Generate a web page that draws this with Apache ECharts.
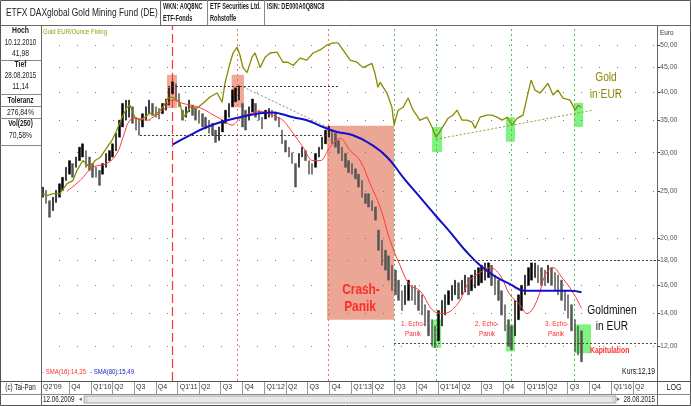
<!DOCTYPE html>
<html><head><meta charset="utf-8">
<script src="https://cdn.jsdelivr.net/npm/echarts@6/dist/echarts.min.js"></script>
<style>html,body{margin:0;padding:0;background:#fff}#c{width:691px;height:406px}</style>
</head><body><div id="c"></div>
<script>
// ---------------- data ----------------
const fundStart = [2009, 6, 12];     // first bar date (y, m, d)
const fundStepDays = 14;             // one bar per two weeks
const fundLow = [24.3,23.6,22.1,22.8,23.7,24.3,25.1,26.3,27.1,26.7,28.0,28.9,29.4,28.0,27.6,26.7,26.7,25.7,27.1,28.0,
28.9,29.4,30.3,32.3,33.9,35.0,35.5,34.5,33.4,32.6,33.9,35.0,36.1,35.8,35.5,35.2,36.1,36.7,37.6,39.7,
38.5,37.3,35.0,35.5,36.4,35.8,35.0,34.5,33.9,33.6,32.9,32.6,31.5,31.8,33.1,34.5,35.5,37.3,38.2,38.5,
33.9,33.4,35.0,36.4,35.5,35.0,33.6,35.2,35.5,35.5,35.0,33.9,31.3,30.1,29.4,28.5,25.5,28.0,29.4,28.9,
27.1,27.1,28.0,29.4,30.5,31.3,32.3,31.3,30.8,29.9,28.9,28.0,27.3,27.1,26.5,25.5,24.3,23.6,23.2,22.8,
21.8,18.9,17.6,17.2,16.4,15.6,15.3,14.9,14.2,14.6,14.9,14.9,14.6,14.2,13.9,13.2,12.6,12.0,11.9,12.3,
13.2,13.9,14.6,14.9,15.3,15.0,15.3,15.5,15.3,15.6,15.8,16.0,16.2,16.4,16.6,16.0,15.3,14.9,13.9,12.9,
12.0,11.8,12.6,13.6,14.2,15.3,16.0,16.4,16.6,16.2,16.0,16.0,16.2,16.0,15.6,15.3,14.9,14.2,13.7,12.9,
11.7,11.5,11.14];
const fundHigh = [25.5,25.1,23.9,24.3,25.1,25.9,26.7,28.0,28.9,28.5,29.4,30.8,31.3,30.3,29.4,28.5,28.0,27.6,28.5,29.9,
30.3,31.3,32.9,35.0,37.9,38.5,38.5,37.3,35.5,35.0,36.1,37.3,38.5,37.9,37.3,37.0,37.9,38.7,40.8,41.98,
41.6,39.7,36.7,37.3,38.5,37.6,37.0,36.7,36.1,35.5,35.0,34.5,33.4,33.9,35.0,36.7,37.9,40.4,40.8,41.2,
37.9,36.7,37.3,38.7,37.9,36.7,35.5,36.7,37.0,36.7,36.4,35.5,33.4,31.8,30.8,30.0,28.5,29.9,30.8,30.3,
28.9,28.5,29.9,30.8,32.3,33.4,34.0,33.4,32.9,31.8,30.8,29.9,28.9,28.5,27.8,27.1,26.3,24.7,24.7,23.9,
23.2,20.8,19.8,18.9,18.4,17.6,17.2,16.4,15.6,16.0,16.4,16.0,16.0,15.6,15.3,14.6,14.2,13.6,13.2,14.2,
14.9,15.3,15.6,16.0,16.4,16.2,16.4,16.8,16.6,16.8,17.2,17.4,17.6,17.8,17.8,17.6,16.8,16.4,15.6,14.6,
13.6,13.2,14.9,15.3,16.0,16.8,17.4,17.8,17.8,17.6,17.4,17.2,17.6,17.4,17.0,16.8,16.4,15.6,15.3,14.6,
13.6,13.2,12.9];

const sma16Dates = ['2009-09-22','2009-11-16','2010-01-09','2010-03-09','2010-04-20','2010-05-16','2010-06-14','2010-07-14',
'2010-08-25','2010-09-19','2010-10-31','2010-12-12','2011-01-23','2011-03-06','2011-04-18','2011-05-30','2011-07-11',
'2011-08-18','2011-09-20','2011-11-01','2011-12-14','2012-01-25','2012-02-23','2012-03-19','2012-05-01','2012-06-12',
'2012-07-24','2012-08-22','2012-10-03','2012-11-14','2012-12-27','2013-02-07','2013-03-21','2013-05-02','2013-06-13',
'2013-07-25','2013-09-05','2013-10-17','2013-12-11','2014-01-22','2014-03-22','2014-05-16','2014-06-27','2014-08-08',
'2014-09-19','2014-10-31','2014-12-12','2015-01-11','2015-02-22','2015-03-28','2015-04-30','2015-06-07','2015-07-19','2015-08-28'];
const sma16Values = [25.0,26.3,28.0,28.5,29.9,32.3,35.0,35.3,35.0,35.5,36.7,38.5,37.9,37.5,36.9,35.9,35.0,
34.2,35.3,36.1,36.5,36.0,35.5,35.0,32.9,30.8,28.9,28.9,30.8,32.1,30.3,28.9,25.9,23.2,19.8,
17.6,16.0,15.6,14.2,14.0,14.6,16.4,17.0,17.4,16.8,15.3,14.6,14.0,14.9,16.8,17.4,16.6,15.6,14.35];

const sma80Dates = ['2010-12-12','2011-02-22','2011-05-04','2011-07-28','2011-09-20','2011-12-01','2012-02-06','2012-03-07',
'2012-05-01','2012-06-28','2012-09-04','2012-11-02','2013-01-08','2013-03-21','2013-05-31','2013-08-07','2013-10-17',
'2013-12-28','2014-02-21','2014-04-25','2014-06-27','2014-08-29','2014-10-31','2015-01-02','2015-03-07','2015-05-09',
'2015-07-11','2015-08-28'];
const sma80Values = [31.2,32.6,33.9,35.0,35.5,36.1,36.3,36.1,35.5,35.0,33.9,33.1,32.6,31.3,29.4,26.7,24.3,
22.1,20.6,18.9,17.6,16.7,16.1,15.6,15.6,15.6,15.6,15.49];

const goldDates = ['2009-06-12','2009-06-30','2009-07-25','2009-08-23','2009-09-22','2009-10-17','2009-11-03','2009-11-28',
'2009-12-28','2010-01-18','2010-02-08','2010-03-09','2010-03-30','2010-04-20','2010-05-12','2010-06-02','2010-06-14',
'2010-07-05','2010-07-26','2010-08-16','2010-09-06','2010-09-27','2010-10-10','2010-10-31','2010-11-21','2010-12-08',
'2010-12-29','2011-01-11','2011-01-23','2011-02-09','2011-02-22','2011-03-23','2011-04-18','2011-05-17','2011-06-16',
'2011-07-07','2011-07-19','2011-08-09','2011-08-22','2011-09-08','2011-09-20','2011-10-03','2011-10-20','2011-11-10',
'2011-11-23','2011-12-14','2012-01-04','2012-01-25','2012-02-23','2012-03-19','2012-04-09','2012-05-01','2012-05-30',
'2012-06-28','2012-07-24','2012-08-22','2012-09-21','2012-10-16','2012-11-06','2012-11-27','2012-12-27','2013-01-25',
'2013-02-19','2013-03-29','2013-04-11','2013-04-23','2013-05-02','2013-05-31','2013-06-21','2013-06-30','2013-07-17',
'2013-08-07','2013-08-28','2013-09-18','2013-10-17','2013-11-16','2013-12-07','2013-12-24','2014-01-18','2014-02-12',
'2014-03-05','2014-03-22','2014-04-12','2014-05-03','2014-05-24','2014-06-06','2014-06-27','2014-07-26','2014-08-16',
'2014-09-06','2014-09-28','2014-10-19','2014-11-09','2014-11-30','2014-12-25','2015-01-11','2015-01-28','2015-02-13',
'2015-03-07','2015-04-09','2015-04-30','2015-05-21','2015-06-11','2015-07-11','2015-08-01','2015-08-14','2015-08-28'];
const goldValues = [660,654,660,660,692,702,737,772,747,772,783,821,849,892,948,994,1003,948,935,948,966,957,970,994,
1038,1043,1028,1013,948,966,994,989,1013,1043,1063,1018,1113,1223,1285,1322,1273,1199,1171,1260,1285,1199,1260,1285,
1291,1230,1230,1211,1254,1242,1285,1304,1335,1348,1348,1304,1242,1230,1199,1223,1165,1092,1119,1063,994,913,980,994,
1038,980,935,948,904,862,900,943,957,980,935,935,926,900,948,957,957,948,935,948,913,943,957,1043,1130,1078,1063,
1113,1053,1078,1038,1028,980,1003,994];

const quarterDates = ['2009-06-05','2009-10-01','2010-01-01','2010-04-01','2010-07-01','2010-10-01','2011-01-01','2011-04-01',
'2011-07-01','2011-10-01','2012-01-01','2012-04-01','2012-07-01','2012-10-01','2013-01-01','2013-04-01','2013-07-01',
'2013-10-01','2014-01-01','2014-04-01','2014-07-01','2014-10-01','2015-01-01','2015-04-01','2015-07-01','2015-10-01',
'2016-01-01','2016-04-01'];
const quarterLabels = ["Q2'09","Q4","Q1'10","Q2","Q3","Q4","Q1'11","Q2","Q3","Q4","Q1'12","Q2","Q3","Q4","Q1'13","Q2","Q3",
"Q4","Q1'14","Q2","Q3","Q4","Q1'15","Q2","Q3","Q4","Q1'16","Q2"];
const yTickValues = [12,14,16,18,20,25,30,35,40,45,50];

// ---------------- build ----------------
const FONT = "'Liberation Sans',Arial,sans-serif";
const ts = s => { const p = s.split('-').map(Number); return new Date(p[0], p[1]-1, p[2]).getTime(); };
const fundDates = fundLow.map((_, i) => new Date(fundStart[0], fundStart[1]-1, fundStart[2] + fundStepDays*i).getTime());
const candles = fundDates.map((d, i) => {
  const mid = (fundLow[i] + fundHigh[i]) / 2;
  const prev = i ? (fundLow[i-1] + fundHigh[i-1]) / 2 : 0;
  return mid >= prev ? [d, fundLow[i], fundHigh[i], fundLow[i], fundHigh[i]]
                     : [d, fundHigh[i], fundLow[i], fundLow[i], fundHigh[i]];
});
const pairs = (ds, vs) => ds.map((d, i) => [ts(d), vs[i]]);
const qTs = quarterDates.map(ts);
const qMap = {}; qTs.forEach((t, i) => qMap[t] = quarterLabels[i]);
const L10 = Math.log10;
const GOLD_K = 26.7;
const yMin = 10.17, yMax = 54.7;

function T(x, y, text, o) {
  o = o || {};
  return { type: 'text', z: 50, silent: true, x, y, scaleX: o.sx || 0.8, style: {
    x: 0, y: 0, text, fill: o.color || '#222',
    font: (o.bold ? 'bold ' : '') + (o.size || 8.5) + 'px ' + FONT,
    textAlign: o.align || 'left', align: o.align || 'left',
    textVerticalAlign: 'middle', verticalAlign: 'middle' } };
}
function Ln(x1, y1, x2, y2, c, w) {
  return { type: 'line', z: 40, silent: true, shape: { x1, y1, x2, y2 }, style: { stroke: c || '#777', lineWidth: w || 1 } };
}

const red = '#ff2b2b';
const graphics = [
  { type: 'rect', z: 39, silent: true, shape: { x: 0.5, y: 0.5, width: 690, height: 405 }, style: { fill: 'none', stroke: '#555', lineWidth: 1 } },
  Ln(0, 25.5, 691, 25.5, '#666'),
  Ln(160.5, 0, 160.5, 25.5, '#666'), Ln(207.5, 0, 207.5, 25.5, '#888'), Ln(264.5, 0, 264.5, 25.5, '#888'),
  Ln(41.5, 25.5, 41.5, 406, '#666'), Ln(657.5, 25.5, 657.5, 406, '#666'),
  Ln(0, 381.5, 691, 381.5, '#555'), Ln(0, 394.5, 691, 394.5, '#888'),
  Ln(0, 60.5, 41, 60.5, '#888'), Ln(0, 94.5, 41, 94.5, '#888'), Ln(0, 106.5, 41, 106.5, '#888'),
  Ln(0, 118.5, 41, 118.5, '#888'), Ln(0, 145.5, 41, 145.5, '#888'),
  { type: 'rect', z: 38, silent: true, shape: { x: 84, y: 396, width: 532, height: 7 }, style: { fill: '#d9d9d9', stroke: '#aaa', lineWidth: 1 } },
  { type: 'rect', z: 38, silent: true, shape: { x: 88, y: 397, width: 524, height: 5 }, style: { fill: '#e9e9e9' } },
  T(79, 399.5, '◂', { size: 7, color: '#666' }), T(617, 399.5, '▸', { size: 7, color: '#666' }),
  T(6, 13, 'ETFX DAXglobal Gold Mining Fund (DE)', { size: 10.5, color: '#222' }),
  T(163, 7, 'WKN: A0Q8NC', { size: 8.5, bold: true, sx: 0.66 }), T(163, 19, 'ETF-Fonds', { size: 8.5, bold: true, sx: 0.66 }),
  T(210, 7, 'ETF Securities Ltd.', { size: 8.5, bold: true, sx: 0.66 }), T(210, 19, 'Rohstoffe', { size: 8.5, bold: true, sx: 0.66 }),
  T(267, 7, 'ISIN: DE000A0Q8NC8', { size: 8.5, bold: true, sx: 0.66 }),
  T(20.5, 31, 'Hoch', { align: 'center', bold: true }), T(20.5, 43, '10.12.2010', { align: 'center', sx: 0.74 }), T(20.5, 54, '41,98', { align: 'center' }),
  T(20.5, 65, 'Tief', { align: 'center', bold: true }), T(20.5, 76, '28.08.2015', { align: 'center', sx: 0.74 }), T(20.5, 87, '11,14', { align: 'center' }),
  T(20.5, 100.5, 'Toleranz', { align: 'center', bold: true, sx: 0.76 }), T(20.5, 112.5, '276,84%', { align: 'center' }),
  T(20.5, 124, 'Vol(250)', { align: 'center', bold: true, sx: 0.76 }), T(20.5, 136, '70,58%', { align: 'center' }),
  T(20.5, 388, '(c) Tai-Pan', { align: 'center', sx: 0.74 }),
  T(43, 399.5, '12.06.2009', { sx: 0.74 }), T(655, 399.5, '28.08.2015', { align: 'right', sx: 0.74 }),
  T(674, 388, 'LOG', { align: 'center', size: 9 }),
  T(660, 33, 'Euro', { size: 8, color: '#333' }),
  T(43, 32, 'Gold EUR/Ounce Fixing', { size: 7.5, color: '#9a9a10' }),
  T(606, 78, 'Gold', { size: 12, color: '#8a8a00', align: 'center', sx: 0.85 }),
  T(606, 95, 'in EUR', { size: 12, color: '#8a8a00', align: 'center', sx: 0.85 }),
  T(612, 311, 'Goldminen', { size: 12, color: '#111', align: 'center', sx: 0.85 }),
  T(612, 327, 'in EUR', { size: 12, color: '#111', align: 'center', sx: 0.85 }),
  T(361, 290, 'Crash-', { size: 14.5, bold: true, color: red, align: 'center', sx: 0.82 }),
  T(360, 307, 'Panik', { size: 14.5, bold: true, color: red, align: 'center', sx: 0.82 }),
  T(413, 324, '1. Echo-', { size: 8, color: red, align: 'center' }), T(413, 334, 'Panik', { size: 8, color: red, align: 'center' }),
  T(487, 324, '2. Echo-', { size: 8, color: red, align: 'center' }), T(487, 334, 'Panik', { size: 8, color: red, align: 'center' }),
  T(557, 324, '3. Echo-', { size: 8, color: red, align: 'center' }), T(556, 334, 'Panik', { size: 8, color: red, align: 'center' }),
  T(590, 351, 'Kapitulation', { size: 8.5, bold: true, color: red }),
  T(42, 372, '- SMA(16):14,35', { size: 7.5, color: '#ff3030' }),
  T(90, 372, '- SMA(80):15,49', { size: 7.5, color: '#2020c0' }),
  T(655, 372, 'Kurs:12,19', { size: 8.5, color: '#111', align: 'right' })
];

const vline = (d, color, type, w) => ({ xAxis: ts(d), lineStyle: { color, type, width: w || 1 } });
const seg = (d1, v1, d2, v2, color, type) => [
  { coord: [ts(d1), v1], lineStyle: { color, type, width: 1 } }, { coord: [ts(d2), v2] }];
const box = (d1, v1, d2, v2, color) => [{ coord: [ts(d1), v1], itemStyle: { color } }, { coord: [ts(d2), v2] }];
const salmon = '#f0a898', green = 'rgba(105,240,105,0.85)';

const option = {
  animation: false,
  grid: { left: 41, right: 34, top: 26, bottom: 25, show: false },
  xAxis: {
    type: 'value', min: new Date(2009, 5, 4, 12).getTime(), max: new Date(2016, 6, 11).getTime(),
    axisLine: { show: true, lineStyle: { color: '#444' } },
    axisTick: { show: true, customValues: qTs, length: 13, lineStyle: { color: '#999' } },
    axisLabel: { customValues: qTs, formatter: v => qMap[v] || '', align: 'left', padding: [0, 0, 0, 2],
      margin: 3, fontSize: 7, color: '#333', fontFamily: FONT, hideOverlap: false },
    splitLine: { show: false }
  },
  yAxis: [
    { type: 'log', logBase: 10, min: yMin, max: yMax, show: false },
    { type: 'value', position: 'right', min: L10(yMin), max: L10(yMax),
      axisLine: { show: false }, splitLine: { show: false },
      axisTick: { show: true, customValues: yTickValues.map(L10), length: 3, lineStyle: { color: '#333' } },
      axisLabel: { customValues: yTickValues.map(L10), margin: 3, fontSize: 7, color: '#555', fontFamily: FONT,
        formatter: v => Math.pow(10, v).toFixed(2).replace('.', ',') } },
    { type: 'log', logBase: 10, min: yMin * GOLD_K, max: yMax * GOLD_K, show: false }
  ],
  graphic: { elements: graphics },
  series: [
    { name: 'anno', type: 'line', data: [], yAxisIndex: 0, silent: true,
      markLine: { z: 1, silent: true, symbol: ['none', 'none'], label: { show: false },
        data: yTickValues.map(v => ({ yAxis: v, lineStyle: { color: '#777', type: [1, 17], width: 1 } })).concat([
          vline('2010-12-10', '#ff3535', [9, 4], 1.2),
          vline('2011-09-08', '#ff6a6a', [2, 3]),
          vline('2012-09-25', '#ff6a6a', [2, 3]),
          vline('2013-06-30', '#55c055', [2, 3]),
          vline('2013-12-24', '#55c055', [2, 3]),
          vline('2014-11-04', '#55c055', [2, 3]),
          vline('2015-07-28', '#55c055', [2, 3])
        ]) },
      markArea: { z: 1, silent: true, label: { show: false }, data: [
        box('2010-11-17', 43.4, '2010-12-29', 37.1, salmon),
        box('2011-08-16', 43.4, '2011-10-07', 37.2, salmon),
        box('2012-09-21', 34.1, '2013-06-30', 13.6, '#eca696'),
        box('2013-12-07', 33.9, '2014-01-18', 30.1, green),
        box('2014-10-14', 35.5, '2014-11-21', 31.6, green),
        box('2015-07-28', 38.0, '2015-09-04', 33.9, green),
        box('2013-12-07', 13.6, '2014-01-14', 11.9, green),
        box('2014-10-14', 13.3, '2014-11-21', 11.7, green),
        box('2015-07-28', 13.3, '2015-10-07', 11.6, green)
      ] } },
    { name: 'Fonds', type: 'candlestick', yAxisIndex: 0, z: 3, barWidth: 2, data: candles,
      encode: { x: 0, y: [1, 2, 3, 4] },
      itemStyle: { color: '#000', color0: '#555', borderColor: '#000', borderColor0: '#555', borderWidth: 0.5 },
      markLine: { z: 6, silent: true, symbol: ['none', 'none'], label: { show: false }, data: [
        seg('2010-11-21', 41.2, '2012-11-14', 41.2, '#333', [2, 2]),
        seg('2010-07-26', 32.6, '2012-10-03', 32.6, '#333', [2, 2]),
        seg('2011-10-03', 41.0, '2012-09-21', 33.9, '#888', [2, 2]),
        seg('2013-06-30', 18.0, '2016-07-11', 18.0, '#444', [2, 2]),
        seg('2013-06-30', 12.15, '2016-07-11', 12.15, '#444', [2, 2])
      ] } },
    { name: 'Gold EUR/Ounce Fixing', type: 'line', yAxisIndex: 2, z: 4, data: pairs(goldDates, goldValues),
      showSymbol: false, lineStyle: { color: '#8a8a00', width: 1.3 },
      markLine: { z: 6, silent: true, symbol: ['none', 'none'], label: { show: false }, data: [
        seg('2013-12-24', 854, '2015-10-16', 980, '#9a9a30', [2, 2])
      ] } },
    { name: 'SMA(16)', type: 'line', yAxisIndex: 0, z: 5, data: pairs(sma16Dates, sma16Values),
      showSymbol: false, smooth: 0.4, lineStyle: { color: '#ff3a3a', width: 1 } },
    { name: 'SMA(80)', type: 'line', yAxisIndex: 0, z: 5, data: pairs(sma80Dates, sma80Values),
      showSymbol: false, smooth: 0.5, lineStyle: { color: '#1010c8', width: 2 } }
  ]
};
const chart = echarts.init(document.getElementById('c'), null, { renderer: 'canvas' });
chart.setOption(option);
</script></body></html>
